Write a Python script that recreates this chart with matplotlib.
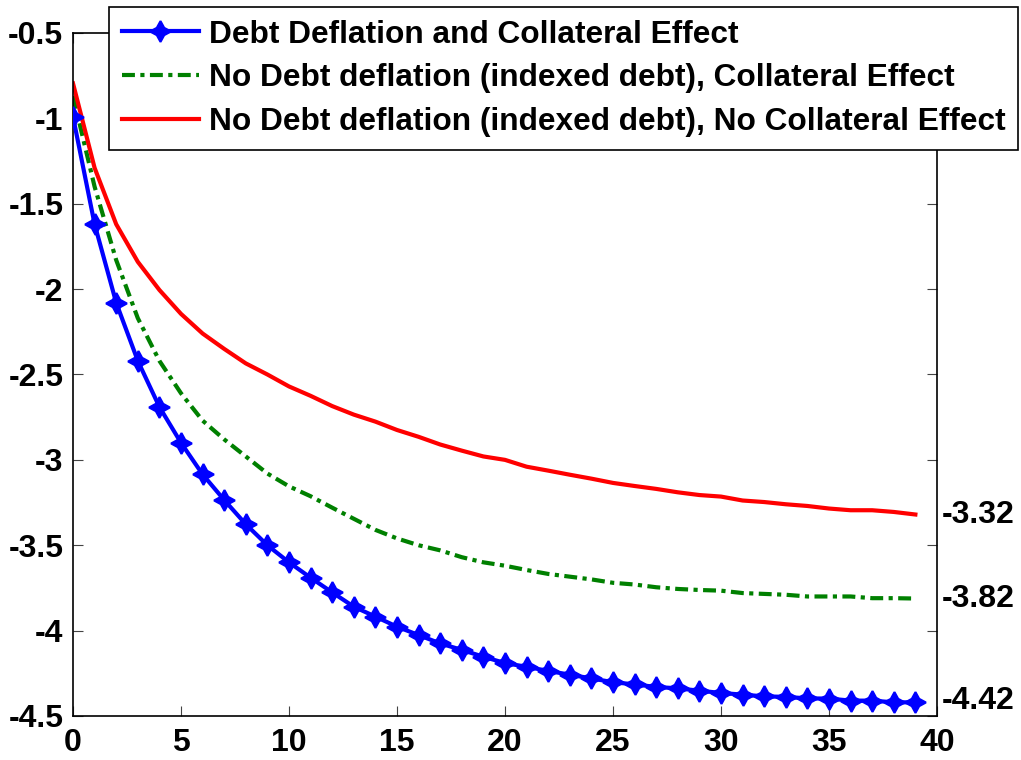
import matplotlib

matplotlib.use("Agg")
import matplotlib.pyplot as plt

# periods 0..39
periods = list(range(40))

debt_deflation = [
    -0.99, -1.62, -2.08, -2.42, -2.69, -2.90, -3.085, -3.235, -3.377, -3.50,
    -3.60, -3.69, -3.776, -3.86, -3.918, -3.977, -4.026, -4.075, -4.113, -4.153,
    -4.19, -4.212, -4.236, -4.258, -4.28, -4.302, -4.315, -4.33, -4.338, -4.352,
    -4.365, -4.375, -4.385, -4.388, -4.397, -4.398, -4.41, -4.41, -4.42, -4.42,
]
no_deflation_collateral = [
    -0.87, -1.40, -1.83, -2.17, -2.42, -2.61, -2.77, -2.88, -2.98, -3.08,
    -3.155, -3.213, -3.28, -3.345, -3.41, -3.46, -3.50, -3.53, -3.57, -3.60,
    -3.62, -3.645, -3.668, -3.684, -3.70, -3.72, -3.73, -3.746, -3.756, -3.762,
    -3.766, -3.78, -3.785, -3.79, -3.80, -3.80, -3.80, -3.81, -3.81, -3.812,
]
no_deflation_no_collateral = [
    -0.795, -1.29, -1.62, -1.84, -2.005, -2.145, -2.26, -2.35, -2.435, -2.50,
    -2.57, -2.625, -2.685, -2.735, -2.776, -2.825, -2.865, -2.91, -2.946, -2.98,
    -3.00, -3.04, -3.063, -3.087, -3.11, -3.135, -3.153, -3.17, -3.19, -3.206,
    -3.215, -3.238, -3.247, -3.26, -3.27, -3.285, -3.295, -3.295, -3.305, -3.32,
]

labels = [
    "Debt Deflation and Collateral Effect",
    "No Debt deflation (indexed debt), Collateral Effect",
    "No Debt deflation (indexed debt), No Collateral Effect",
]
end_labels = ["-3.32", "-3.82", "-4.42"]
end_values = [-3.32, -3.815, -4.41]

xticks = [0, 5, 10, 15, 20, 25, 30, 35, 40]
yticks = [-4.5, -4, -3.5, -3, -2.5, -2, -1.5, -1, -0.5]
ytick_labels = ["-4.5", "-4", "-3.5", "-3", "-2.5", "-2", "-1.5", "-1", "-0.5"]

plt.rcParams["font.family"] = ["Liberation Sans", "DejaVu Sans"]
plt.rcParams["font.weight"] = "bold"


def main() -> None:
    fig = plt.figure(figsize=(10.21, 7.60), dpi=100)
    ax = fig.add_axes([0.0715, 0.0579, 0.8462, 0.8987])

    ax.plot(periods, debt_deflation, color=(0, 0, 1), lw=3, marker=(4, 1, 0),
            markersize=15, markeredgewidth=1.5, label=labels[0], zorder=3)
    ax.plot(periods, no_deflation_collateral, color=(0, 0.5, 0), lw=3,
            dashes=(3.1, 1.3, 1.0, 1.3), label=labels[1], zorder=2)
    ax.plot(periods, no_deflation_no_collateral, color=(1, 0, 0), lw=3,
            label=labels[2], zorder=2)

    ax.set_xlim(0, 40)
    ax.set_ylim(-4.5, -0.5)
    ax.set_xticks(xticks)
    ax.set_xticklabels([str(t) for t in xticks])
    ax.set_yticks(yticks)
    ax.set_yticklabels(ytick_labels)
    ax.tick_params(direction="in", length=7, width=0.8, color="#444444",
                   labelsize=23, pad=7, top=True, right=True)
    ax.tick_params(axis="x", pad=9)
    for spine in ax.spines.values():
        spine.set_linewidth(1.2)

    for text, val in zip(end_labels, end_values):
        ax.text(40.2, val, text, fontsize=23, fontweight="bold",
                va="center", ha="left", clip_on=False)

    leg = fig.legend(loc="upper right", bbox_to_anchor=(0.997, 0.991),
                     fontsize=22.8, frameon=True, fancybox=False, framealpha=1,
                     edgecolor="black", handlelength=2.45, handletextpad=0.3,
                     borderpad=0.4, labelspacing=0.44, borderaxespad=0)
    leg.get_frame().set_linewidth(1.2)
    leg.set_zorder(10)

    fig.savefig("out.png", dpi=100)


if __name__ == "__main__":
    main()
